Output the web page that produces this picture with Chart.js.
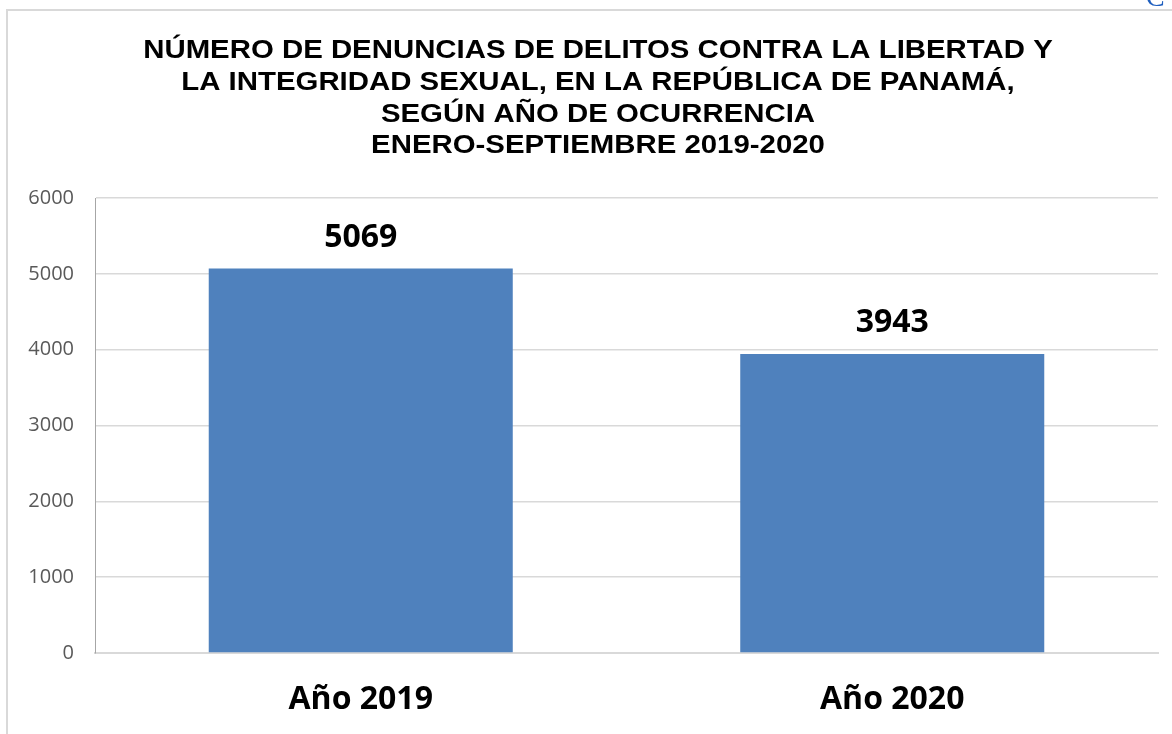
<!DOCTYPE html>
<html>
<head>
<meta charset="utf-8">
<script src="https://cdn.jsdelivr.net/npm/chart.js@4"></script>
<style>
  html, body { margin: 0; padding: 0; background: #fff; }
  #wrap { position: relative; width: 1172px; height: 734px; }
</style>
</head>
<body>
<div id="wrap"><canvas id="denunciasChart"></canvas></div>
<script>
// Chart data
const categories = ['Año 2019', 'Año 2020'];
const denuncias = [5069, 3943];
const titleLines = [
    'NÚMERO DE DENUNCIAS DE DELITOS CONTRA LA LIBERTAD Y',
    'LA INTEGRIDAD SEXUAL, EN LA REPÚBLICA DE PANAMÁ,',
    'SEGÚN AÑO DE OCURRENCIA',
    'ENERO-SEPTIEMBRE 2019-2020'
];
const yMin = 0;
const yMax = 6000;
const yStep = 1000;

// frame lines of the pasted chart box, stray glyph at the top right, and the title
// (title drawn by hand: the source image is a bit stretched sideways)
const framePlugin = {
    id: 'frame',
    beforeDraw(chart) {
        const c = chart.ctx;
        c.save();
        c.strokeStyle = '#d9d9d9';
        c.lineWidth = 2;
        c.beginPath();
        c.moveTo(7, 734);
        c.lineTo(7, 10);
        c.lineTo(1172, 10);
        c.stroke();
        c.fillStyle = '#1f5fbf';
        c.font = '28px "Liberation Serif"';
        c.textBaseline = 'alphabetic';
        c.fillText('C', 1146, 6);

        c.fillStyle = '#000';
        c.font = 'bold 25px Arial, "Liberation Sans"';
        c.textAlign = 'center';
        titleLines.forEach((line, i) => {
            c.save();
            c.translate(598, 58 + i * 31.8);
            c.scale(1.175, 1);
            c.fillText(line, 0, 0);
            c.restore();
        });
        c.restore();
    }
};

// value labels above the bars
const valueLabels = {
    id: 'valueLabels',
    afterDatasetsDraw(chart) {
        const c = chart.ctx;
        c.save();
        c.fillStyle = '#000';
        c.font = 'bold 32px "Open Sans"';
        c.textAlign = 'center';
        c.textBaseline = 'middle';
        chart.getDatasetMeta(0).data.forEach((bar, i) => {
            c.fillText(denuncias[i], bar.x, bar.y - 31);
        });
        c.restore();
    }
};

new Chart(document.getElementById('denunciasChart'), {
    type: 'bar',
    data: {
        labels: categories,
        datasets: [{
            data: denuncias,
            backgroundColor: '#4f81bd',
            borderWidth: 0,
            barPercentage: 0.572,
            categoryPercentage: 1
        }]
    },
    options: {
        responsive: true,
        maintainAspectRatio: false,
        animation: false,
        layout: { padding: { left: 0, right: 14, top: 198, bottom: 0 } },
        plugins: {
            legend: { display: false },
            tooltip: { enabled: false },
            title: { display: false }
        },
        scales: {
            x: {
                afterFit(scale) { scale.height = 81; },
                grid: { display: false, drawTicks: false },
                border: { display: true, color: '#d9d9d9', width: 2 },
                ticks: {
                    color: '#000',
                    padding: 28,
                    font: { family: '"Open Sans"', size: 32, weight: 'bold', lineHeight: 1.2 }
                }
            },
            y: {
                min: yMin,
                max: yMax,
                afterFit(scale) { scale.width = 95; },
                grid: { color: '#d9d9d9', lineWidth: 1.5, drawTicks: false },
                border: { display: true, color: '#a6a6a6', width: 1 },
                ticks: {
                    stepSize: yStep,
                    color: '#595959',
                    padding: 21,
                    font: { family: '"Open Sans"', size: 20 },
                    callback: (v) => String(v)
                }
            }
        }
    },
    plugins: [framePlugin, valueLabels]
});
</script>
</body>
</html>
